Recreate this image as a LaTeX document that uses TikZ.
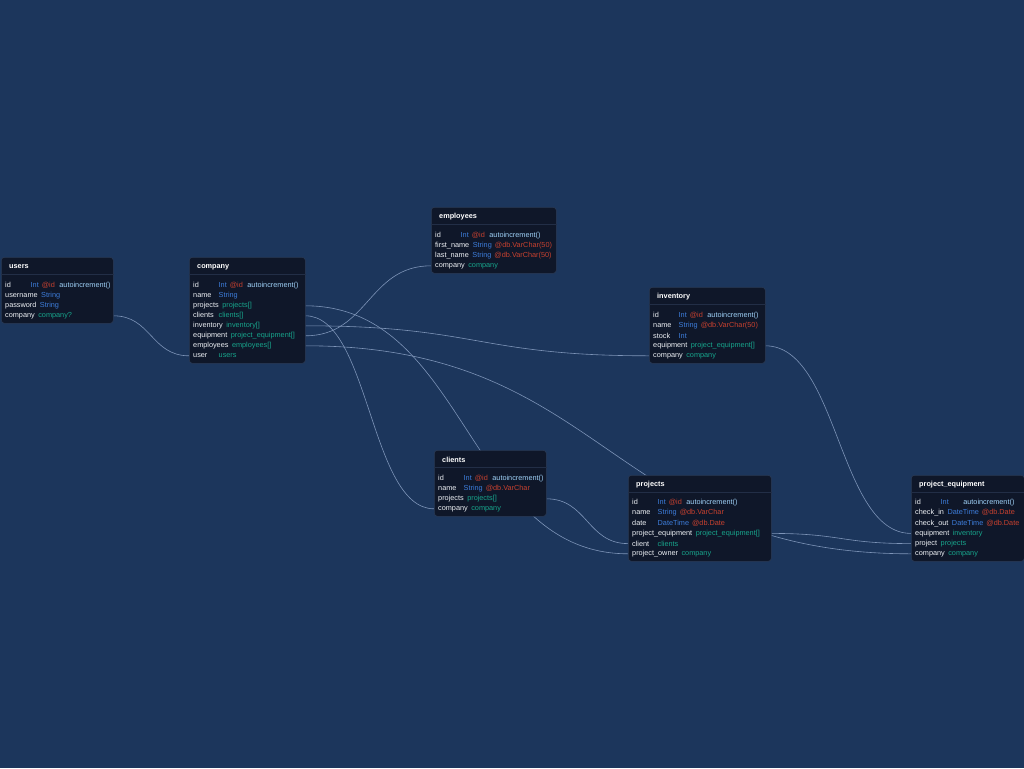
\documentclass[tikz,border=0pt]{standalone}
\usepackage{fontspec}
\setmainfont{Liberation Sans}
\usetikzlibrary{calc}

\definecolor{bgcol}{HTML}{1C365C}
\definecolor{tblfill}{HTML}{0F1729}
\definecolor{tblline}{HTML}{2A3A55}
\definecolor{sepcol}{HTML}{222E46}
\definecolor{fieldcol}{HTML}{EEF1F5}
\definecolor{typecol}{HTML}{3D7DDB}
\definecolor{attrcol}{HTML}{C8412F}
\definecolor{funccol}{HTML}{9FD1F7}
\definecolor{relcol}{HTML}{17A58C}
\definecolor{linkcol}{HTML}{7D94B8}

\newcommand\rowfont{\fontsize{7.3}{8}\selectfont}
\newsavebox\namebox
\newcommand\dname[1]{\sbox\namebox{#1}\ifdim\wd\namebox<22pt\makebox[22pt][l]{#1}\else\usebox\namebox\fi\kern3.5pt}
\newcommand\dtype[1]{\textcolor{typecol}{#1}}
\newcommand\dattr[1]{\kern3pt\textcolor{attrcol}{#1}}
\newcommand\dfunc[1]{\kern4.5pt\textcolor{funccol}{#1}}
\newcommand\drel[1]{\textcolor{relcol}{#1}}

\pgfdeclarelayer{back}
\pgfdeclarelayer{links}
\pgfsetlayers{back,links,main}

\begin{document}
\begin{tikzpicture}[x=1pt, y=-1pt,
    table/.style={draw=tblline, fill=tblfill, rounded corners=3pt, line width=0.6pt, anchor=north west, inner sep=0pt},
    title/.style={anchor=west, inner sep=0pt, yshift=-1pt, text=white, font=\rowfont\bfseries},
    field/.style={anchor=west, inner xsep=4pt, inner ysep=0pt, yshift=-1.8pt, text width=#1, align=left, text=fieldcol, font=\rowfont},
    sepline/.style={draw=sepcol, line width=0.6pt},
    link/.style={draw=linkcol, line width=0.6pt,
        to path={let \p1=(\tikztostart), \p2=(\tikztotarget), \n1={0.5*abs(\x2-\x1)} in
            .. controls +(\n1,0) and +(-\n1,0) .. (\tikztotarget)}}]
    \useasboundingbox (0,0) rectangle (1024,768);
    \begin{pgfonlayer}{back}
        \fill[bgcol] (0,0) rectangle (1024,768);
    \end{pgfonlayer}

    % users
    \node[table, minimum width=112pt, minimum height=66pt] (users) at (1,257) {};
    \draw[sepline] ([yshift=-17.5pt]users.north west) -- ([yshift=-17.5pt]users.north east);
    \node[title] (users-title) at (9,266) {users};
    \node[field=104pt] (users-id) at (1,284) {\dname{id}\dtype{Int}\dattr{@id}\dfunc{autoincrement()}};
    \node[field=104pt] (users-username) at (1,294) {\dname{username}\dtype{String}};
    \node[field=104pt] (users-password) at (1,304) {\dname{password}\dtype{String}};
    \node[field=104pt] (users-company) at (1,314) {\dname{company}\drel{company?}};

    % company
    \node[table, minimum width=116pt, minimum height=106pt] (company) at (189,257) {};
    \draw[sepline] ([yshift=-17.5pt]company.north west) -- ([yshift=-17.5pt]company.north east);
    \node[title] (company-title) at (197,266) {company};
    \node[field=108pt] (company-id) at (189,284) {\dname{id}\dtype{Int}\dattr{@id}\dfunc{autoincrement()}};
    \node[field=108pt] (company-name) at (189,294) {\dname{name}\dtype{String}};
    \node[field=108pt] (company-projects) at (189,304) {\dname{projects}\drel{projects[]}};
    \node[field=108pt] (company-clients) at (189,314) {\dname{clients}\drel{clients[]}};
    \node[field=108pt] (company-inventory) at (189,324) {\dname{inventory}\drel{inventory[]}};
    \node[field=108pt] (company-equipment) at (189,334) {\dname{equipment}\drel{project\_equipment[]}};
    \node[field=108pt] (company-employees) at (189,344) {\dname{employees}\drel{employees[]}};
    \node[field=108pt] (company-user) at (189,354) {\dname{user}\drel{users}};

    % employees
    \node[table, minimum width=125pt, minimum height=66pt] (employees) at (431,207) {};
    \draw[sepline] ([yshift=-17.5pt]employees.north west) -- ([yshift=-17.5pt]employees.north east);
    \node[title] (employees-title) at (439,216) {employees};
    \node[field=117pt] (employees-id) at (431,234) {\dname{id}\dtype{Int}\dattr{@id}\dfunc{autoincrement()}};
    \node[field=117pt] (employees-first) at (431,244) {\dname{first\_name}\dtype{String}\dattr{@db.VarChar(50)}};
    \node[field=117pt] (employees-last) at (431,254) {\dname{last\_name}\dtype{String}\dattr{@db.VarChar(50)}};
    \node[field=117pt] (employees-company) at (431,264) {\dname{company}\drel{company}};

    % inventory
    \node[table, minimum width=116pt, minimum height=76pt] (inventory) at (649,287) {};
    \draw[sepline] ([yshift=-17.5pt]inventory.north west) -- ([yshift=-17.5pt]inventory.north east);
    \node[title] (inventory-title) at (657,296) {inventory};
    \node[field=108pt] (inventory-id) at (649,314) {\dname{id}\dtype{Int}\dattr{@id}\dfunc{autoincrement()}};
    \node[field=108pt] (inventory-name) at (649,324) {\dname{name}\dtype{String}\dattr{@db.VarChar(50)}};
    \node[field=108pt] (inventory-stock) at (649,334) {\dname{stock}\dtype{Int}};
    \node[field=108pt] (inventory-equipment) at (649,344) {\dname{equipment}\drel{project\_equipment[]}};
    \node[field=108pt] (inventory-company) at (649,354) {\dname{company}\drel{company}};

    % clients
    \node[table, minimum width=112pt, minimum height=66pt] (clients) at (434,450) {};
    \draw[sepline] ([yshift=-17.5pt]clients.north west) -- ([yshift=-17.5pt]clients.north east);
    \node[title] (clients-title) at (442,459) {clients};
    \node[field=104pt] (clients-id) at (434,477) {\dname{id}\dtype{Int}\dattr{@id}\dfunc{autoincrement()}};
    \node[field=104pt] (clients-name) at (434,487) {\dname{name}\dtype{String}\dattr{@db.VarChar}};
    \node[field=104pt] (clients-projects) at (434,497) {\dname{projects}\drel{projects[]}};
    \node[field=104pt] (clients-company) at (434,507) {\dname{company}\drel{company}};

    % projects
    \node[table, minimum width=143pt, minimum height=86pt] (projects) at (628,475) {};
    \draw[sepline] ([yshift=-17.5pt]projects.north west) -- ([yshift=-17.5pt]projects.north east);
    \node[title] (projects-title) at (636,484) {projects};
    \node[field=135pt] (projects-id) at (628,501) {\dname{id}\dtype{Int}\dattr{@id}\dfunc{autoincrement()}};
    \node[field=135pt] (projects-name) at (628,511.2) {\dname{name}\dtype{String}\dattr{@db.VarChar}};
    \node[field=135pt] (projects-date) at (628,521.4) {\dname{date}\dtype{DateTime}\dattr{@db.Date}};
    \node[field=135pt] (projects-equipment) at (628,531.6) {\dname{project\_equipment}\drel{project\_equipment[]}};
    \node[field=135pt] (projects-client) at (628,541.8) {\dname{client}\drel{clients}};
    \node[field=135pt] (projects-owner) at (628,552) {\dname{project\_owner}\drel{company}};

    % project_equipment
    \node[table, minimum width=113pt, minimum height=86pt] (projequip) at (911,475) {};
    \draw[sepline] ([yshift=-17.5pt]projequip.north west) -- ([yshift=-17.5pt]projequip.north east);
    \node[title] (projequip-title) at (919,484) {project\_equipment};
    \node[field=105pt] (projequip-id) at (911,501) {\dname{id}\dtype{Int}\kern10pt\dfunc{autoincrement()}};
    \node[field=105pt] (projequip-checkin) at (911,511.2) {\dname{check\_in}\dtype{DateTime}\dattr{@db.Date}};
    \node[field=105pt] (projequip-checkout) at (911,521.4) {\dname{check\_out}\dtype{DateTime}\dattr{@db.Date}};
    \node[field=105pt] (projequip-equipment) at (911,531.6) {\dname{equipment}\drel{inventory}};
    \node[field=105pt] (projequip-project) at (911,541.8) {\dname{project}\drel{projects}};
    \node[field=105pt] (projequip-company) at (911,552) {\dname{company}\drel{company}};

    % relations
    \begin{pgfonlayer}{links}
        \draw[link] (users-company.east) to (company-user.west);
        \draw[link] (company-projects.east) to (projects-owner.west);
        \draw[link] (company-clients.east) to (clients-company.west);
        \draw[link] (company-inventory.east) to (inventory-company.west);
        \draw[link] (company-equipment.east) to (employees-company.west);
        \draw[link] (company-employees.east) to (projequip-company.west);
        \draw[link] (clients-projects.east) to (projects-client.west);
        \draw[link] (inventory-equipment.east) to (projequip-equipment.west);
        \draw[link] (projects-equipment.east) to (projequip-project.west);
    \end{pgfonlayer}
\end{tikzpicture}
\end{document}
